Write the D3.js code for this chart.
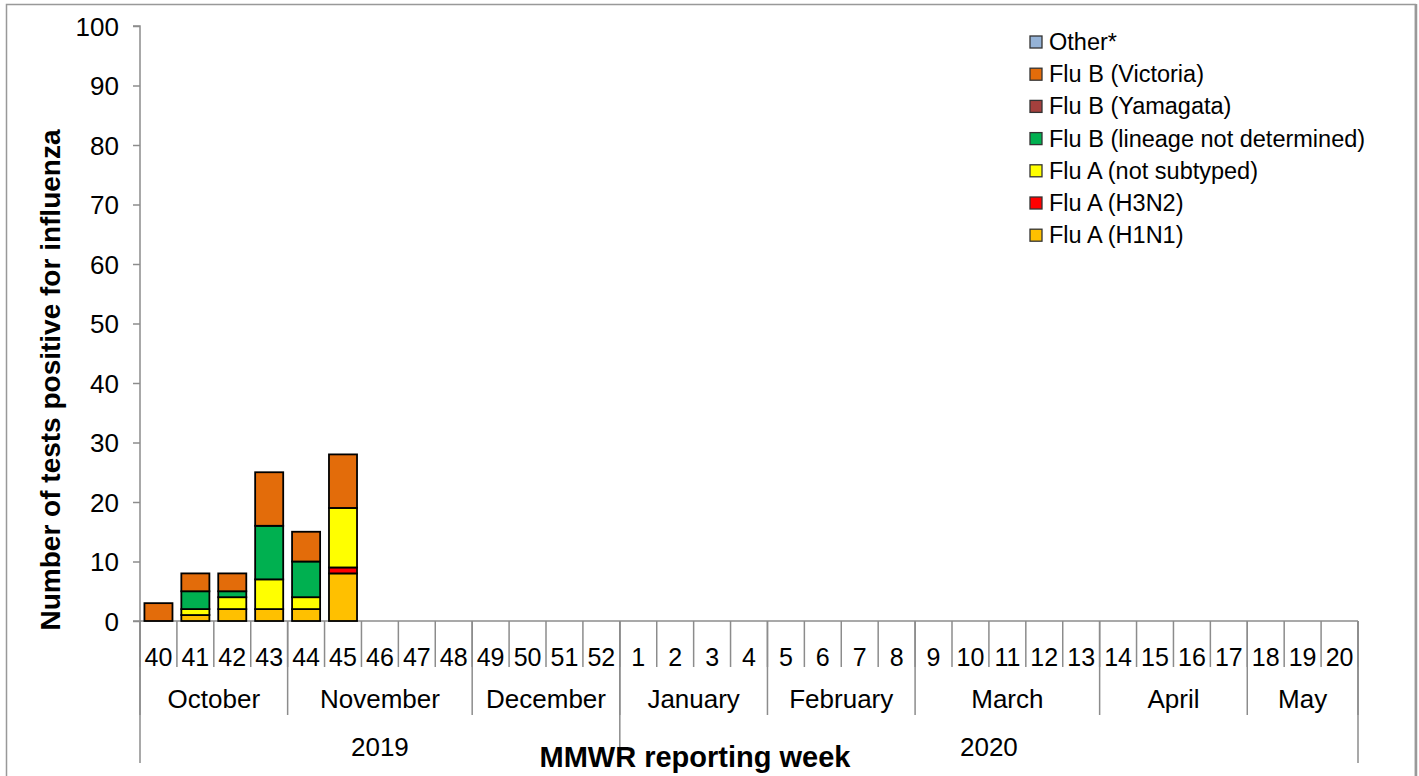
<!DOCTYPE html>
<html><head><meta charset="utf-8">
<script src="https://cdn.jsdelivr.net/npm/d3@7"></script>
<style>body{margin:0;background:#fff}svg{display:block;font-family:"Liberation Sans",Arial,sans-serif}</style>
</head><body>
<svg id="c" width="1419" height="776"></svg>
<script>
const weeks = ["40","41","42","43","44","45","46","47","48","49","50","51","52","1","2","3","4","5","6","7","8","9","10","11","12","13","14","15","16","17","18","19","20"];
const months = [["October",4],["November",5],["December",4],["January",4],["February",4],["March",5],["April",4],["May",3]];
const years = [["2019",13],["2020",20]];
const seriesNames = ["Flu A (H1N1)","Flu A (H3N2)","Flu A (not subtyped)","Flu B (lineage not determined)","Flu B (Yamagata)","Flu B (Victoria)","Other*"];
const seriesColors = ["#FFC000","#FF0000","#FFFF00","#00B050","#A5403D","#E36C0A","#95B3D7"];
// values per series for weeks 40..45 (rest zero)
const h1n1     = [0,1,2,2,2,8];
const h3n2     = [0,0,0,0,0,1];
const aNotSub  = [0,1,2,5,2,10];
const bLineage = [0,3,1,9,6,0];
const bYam     = [0,0,0,0,0,0];
const bVic     = [3,3,3,9,5,9];
const other    = [0,0,0,0,0,0];
const yTicks = [0,10,20,30,40,50,60,70,80,90,100];

const seriesVals = [h1n1,h3n2,aNotSub,bLineage,bYam,bVic,other];
const data = weeks.map((w,i)=>{const o={week:w}; seriesNames.forEach((s,j)=>o[s]=seriesVals[j][i]||0); return o;});

const svg = d3.select("#c");
const FF = "Liberation Sans, Arial, sans-serif";
const x0=140, x1=1358, yTop=26, yBot=621;
const x = d3.scaleBand().domain(weeks).range([x0,x1]).paddingInner(0.24).paddingOuter(0.12);
const y = d3.scaleLinear().domain([0,100]).range([yBot,yTop]);
const step = (x1-x0)/weeks.length;
const grey="#8c8c8c";

// frame
svg.append("rect").attr("x",6.5).attr("y",4.5).attr("width",1409).attr("height",780).attr("fill","none").attr("stroke","#999").attr("stroke-width",1.5);
svg.append("line").attr("x1",1416).attr("x2",1416).attr("y1",4).attr("y2",776).attr("stroke","#999").attr("stroke-width",2.5);

// y axis
const ya = svg.append("g").attr("transform",`translate(${x0},0)`).call(d3.axisLeft(y).tickValues(yTicks).tickSize(7).tickPadding(14));
ya.select(".domain").attr("stroke",grey).attr("stroke-width",1.5).attr("d",`M-7,${yTop}H0V${yBot}`);
ya.selectAll(".tick line").attr("stroke",grey).attr("stroke-width",1.5);
ya.selectAll(".tick text").attr("font-size",26).attr("fill","#000").attr("font-family",FF).attr("dy","0.35em");

// x axis line
svg.append("line").attr("x1",x0-7).attr("x2",x1).attr("y1",yBot).attr("y2",yBot).attr("stroke",grey).attr("stroke-width",1.5);

// week separators and labels
const g = svg.append("g");
for(let i=0;i<=weeks.length;i++){
  g.append("line").attr("x1",x0+i*step).attr("x2",x0+i*step).attr("y1",yBot).attr("y2",667).attr("stroke",grey).attr("stroke-width",1.5);
}
g.selectAll("text.wk").data(weeks).join("text").attr("class","wk")
  .attr("x",d=>x(d)+x.bandwidth()/2).attr("y",666).attr("text-anchor","middle").attr("font-size",25).text(d=>d);
// months
let idx=0;
months.forEach(([m,n])=>{
  const xs=x0+idx*step, xe=x0+(idx+n)*step;
  g.append("line").attr("x1",xs).attr("x2",xs).attr("y1",yBot).attr("y2",715).attr("stroke",grey).attr("stroke-width",1.5);
  g.append("text").attr("x",(xs+xe)/2).attr("y",708).attr("text-anchor","middle").attr("font-size",26).text(m);
  idx+=n;
});
g.append("line").attr("x1",x1).attr("x2",x1).attr("y1",yBot).attr("y2",715).attr("stroke",grey).attr("stroke-width",1.5);
idx=0;
years.forEach(([yr,n])=>{
  const xs=x0+idx*step, xe=x0+(idx+n)*step;
  g.append("line").attr("x1",xs).attr("x2",xs).attr("y1",yBot).attr("y2",763).attr("stroke",grey).attr("stroke-width",1.5);
  g.append("text").attr("x",(xs+xe)/2).attr("y",756).attr("text-anchor","middle").attr("font-size",26).text(yr);
  idx+=n;
});
g.append("line").attr("x1",x1).attr("x2",x1).attr("y1",yBot).attr("y2",763).attr("stroke",grey).attr("stroke-width",1.5);

// bars
const stack = d3.stack().keys(seriesNames)(data);
svg.append("g").selectAll("g").data(stack).join("g").attr("fill",(d,i)=>seriesColors[i])
  .selectAll("rect").data(d=>d.filter(p=>p[1]-p[0]>0)).join("rect")
  .attr("x",d=>x(d.data.week)).attr("width",x.bandwidth())
  .attr("y",d=>y(d[1])).attr("height",d=>y(d[0])-y(d[1]))
  .attr("stroke","#000").attr("stroke-width",1.8);

// legend
const leg = svg.append("g");
const legOrder = seriesNames.map((s,i)=>[s,seriesColors[i]]).reverse();
legOrder.forEach(([s,c],i)=>{
  const yy=42+i*32.2;
  leg.append("rect").attr("x",1030).attr("y",yy-6).attr("width",12).attr("height",12).attr("fill",c).attr("stroke","#333").attr("stroke-width",1.3);
  leg.append("text").attr("x",1049).attr("y",yy+8).attr("font-size",23.5).text(s);
});

// titles
svg.append("text").attr("transform","translate(60,380) rotate(-90)").attr("text-anchor","middle")
  .attr("font-size",28).attr("font-weight","bold").text("Number of tests positive for influenza");
svg.append("text").attr("x",695).attr("y",767).attr("text-anchor","middle")
  .attr("font-size",29).attr("font-weight","bold").text("MMWR reporting week");
</script>
</body></html>
